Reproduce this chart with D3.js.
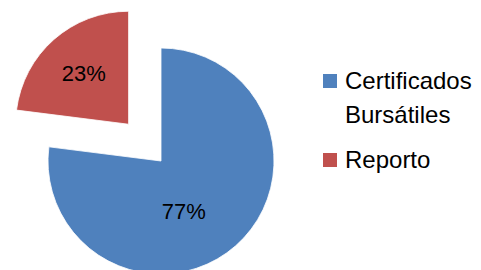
<!DOCTYPE html>
<html>
<head>
<meta charset="utf-8">
<script src="https://cdn.jsdelivr.net/npm/d3@7"></script>
<style>
    html, body { margin: 0; padding: 0; background: #fff; }
    svg { display: block; font-family: "Liberation Sans", Arial, sans-serif; }
</style>
</head>
<body>
<svg id="chart" width="481" height="270"></svg>
<script>
const categories = ["Certificados Bursátiles", "Reporto"];
const shares = [77, 23];
const sliceLabels = ["77%", "23%"];
const legendLines = [["Certificados", "Bursátiles"], ["Reporto"]];
const colors = ["#4F81BD", "#C0504D"];
const explodeBy = [0, 49];

const CENTER_X = 161;
const CENTER_Y = 161;
const RADIUS = 113;
// where each data label sits: fraction of the radius, and a turn (radians) off the slice middle
const LABEL_RADIUS = [0.49, 0.6];
const LABEL_TURN = [0.3, 0];

const svg = d3.select("#chart");

const pie = d3.pie().sort(null).value((d) => d.value);
const arcs = pie(categories.map((name, i) => ({
    name,
    value: shares[i],
    label: sliceLabels[i],
    color: colors[i],
    explode: explodeBy[i],
    labelRadius: LABEL_RADIUS[i] * RADIUS,
    labelTurn: LABEL_TURN[i]
})));

const arc = d3.arc().innerRadius(0).outerRadius(RADIUS);

const midAngle = (entry) => (entry.startAngle + entry.endAngle) / 2;

const offsetOf = (entry) => {
    const mid = midAngle(entry);
    return [Math.sin(mid) * entry.data.explode, -Math.cos(mid) * entry.data.explode];
};

const labelPos = (entry) => {
    const a = midAngle(entry) + entry.data.labelTurn;
    return [Math.sin(a) * entry.data.labelRadius, -Math.cos(a) * entry.data.labelRadius];
};

const slices = svg.append("g")
    .attr("transform", `translate(${CENTER_X}, ${CENTER_Y})`)
    .selectAll("g.slice")
    .data(arcs)
    .join("g")
    .attr("class", "slice")
    .attr("transform", (entry) => {
        const [dx, dy] = offsetOf(entry);
        return `translate(${dx}, ${dy})`;
    });

slices.append("path")
    .attr("d", arc)
    .attr("fill", (entry) => entry.data.color)
    .attr("stroke", "#ffffff")
    .attr("stroke-width", 0.8);

slices.append("text")
    .attr("transform", (entry) => {
        const [x, y] = labelPos(entry);
        return `translate(${x}, ${y})`;
    })
    .attr("text-anchor", "middle")
    .attr("dy", "0.35em")
    .attr("font-size", 22)
    .attr("fill", "#000")
    .text((entry) => entry.data.label);

// legend
const legendY = d3.scalePoint().domain(categories).range([74, 153]);

const legend = svg.append("g")
    .selectAll("g.legend-item")
    .data(categories)
    .join("g")
    .attr("class", "legend-item")
    .attr("transform", (name) => `translate(323, ${legendY(name)})`);

legend.append("rect")
    .attr("width", 14)
    .attr("height", 14)
    .attr("fill", (_, i) => colors[i]);

legend.append("text")
    .attr("font-size", 24)
    .attr("fill", "#000")
    .each(function (_, i) {
        const text = d3.select(this);
        legendLines[i].forEach((line, lineIndex) => {
            text.append("tspan")
                .attr("x", 22)
                .attr("y", 15 + lineIndex * 34)
                .text(line);
        });
    });
</script>
</body>
</html>
